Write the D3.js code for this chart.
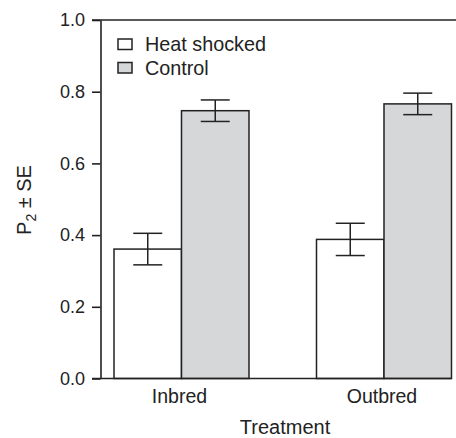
<!DOCTYPE html>
<html>
<head>
<meta charset="utf-8">
<script src="https://cdn.jsdelivr.net/npm/d3@7"></script>
<style>
  body { margin: 0; background: #fff; }
  text { font-family: "Liberation Sans", Arial, sans-serif; fill: #222; }
</style>
</head>
<body>
<svg id="chart" width="456" height="438"></svg>
<script>
// data
const treatments = ["Inbred", "Outbred"];
const groups = ["Heat shocked", "Control"];
const heatValues = [0.361, 0.388];
const heatSE = [0.044, 0.045];
const controlValues = [0.747, 0.766];
const controlSE = [0.030, 0.030];
const yTicks = [0, 0.2, 0.4, 0.6, 0.8, 1.0];

const fills = { "Heat shocked": "#ffffff", "Control": "#d6d7d9" };
const ink = "#222";

const svg = d3.select("#chart");

const x = d3.scaleBand()
  .domain(treatments)
  .range([100.5, 465])
  .paddingInner(1 / 3)
  .paddingOuter(0.0667);

const xSub = d3.scaleBand()
  .domain(groups)
  .range([0, x.bandwidth()]);

const y = d3.scaleLinear().domain([0, 1]).range([378.5, 20]);

const rows = [];
treatments.forEach((t, i) => {
  rows.push({ t, g: "Heat shocked", v: heatValues[i], se: heatSE[i] });
  rows.push({ t, g: "Control", v: controlValues[i], se: controlSE[i] });
});

// bars
const bars = svg.append("g");
bars.selectAll("rect")
  .data(rows)
  .join("rect")
  .attr("x", d => x(d.t) + xSub(d.g))
  .attr("y", d => y(d.v))
  .attr("width", xSub.bandwidth())
  .attr("height", d => y(0) - y(d.v))
  .attr("fill", d => fills[d.g])
  .attr("stroke", ink)
  .attr("stroke-width", 1.5);

// error bars
const cap = 14.5;
const err = svg.append("g").attr("stroke", ink).attr("stroke-width", 1.5);
rows.forEach(d => {
  const cx = x(d.t) + xSub(d.g) + xSub.bandwidth() / 2;
  err.append("line").attr("x1", cx).attr("x2", cx)
    .attr("y1", y(d.v + d.se)).attr("y2", y(d.v - d.se));
  err.append("line").attr("x1", cx - cap).attr("x2", cx + cap)
    .attr("y1", y(d.v + d.se)).attr("y2", y(d.v + d.se));
  err.append("line").attr("x1", cx - cap).attr("x2", cx + cap)
    .attr("y1", y(d.v - d.se)).attr("y2", y(d.v - d.se));
});

// y axis
const yAxis = svg.append("g")
  .attr("transform", "translate(100.5,0)")
  .call(d3.axisLeft(y).tickValues(yTicks).tickFormat(d3.format(".1f"))
    .tickSize(8.5).tickSizeOuter(0).tickPadding(7));
yAxis.selectAll("path, line").attr("stroke", ink).attr("stroke-width", 1.6);
yAxis.selectAll("text").style("font-size", "18px").attr("fill", ink);

// top and bottom lines
const lastBarRight = x(treatments[1]) + x.bandwidth();
svg.append("line").attr("x1", 92).attr("x2", 456)
  .attr("y1", y(1)).attr("y2", y(1)).attr("stroke", ink).attr("stroke-width", 1.6);
svg.append("line").attr("x1", 92).attr("x2", lastBarRight)
  .attr("y1", y(0)).attr("y2", y(0)).attr("stroke", ink).attr("stroke-width", 1.6);

// x labels
svg.append("g").selectAll("text")
  .data(treatments)
  .join("text")
  .attr("x", d => x(d) + x.bandwidth() / 2 - 2)
  .attr("y", 403)
  .attr("text-anchor", "middle")
  .style("font-size", "19.5px")
  .text(d => d);

svg.append("text")
  .attr("x", 285).attr("y", 434)
  .attr("text-anchor", "middle")
  .style("font-size", "20px")
  .text("Treatment");

// y label
const yl = svg.append("text")
  .attr("transform", "translate(31,200) rotate(-90)")
  .attr("text-anchor", "middle")
  .style("font-size", "20px");
yl.append("tspan").text("P");
yl.append("tspan").attr("dy", 5).style("font-size", "14px").text("2");
yl.append("tspan").attr("dy", -5).text(" \u00b1 SE");

// legend
const legend = svg.append("g");
groups.forEach((g, i) => {
  const ly = 39 + i * 23.5;
  legend.append("rect").attr("x", 118).attr("y", ly)
    .attr("width", 14).attr("height", 10.5)
    .attr("fill", fills[g]).attr("stroke", ink).attr("stroke-width", 1.5);
  legend.append("text").attr("x", 145).attr("y", ly + 12)
    .style("font-size", "19.8px").text(g);
});
</script>
</body>
</html>
